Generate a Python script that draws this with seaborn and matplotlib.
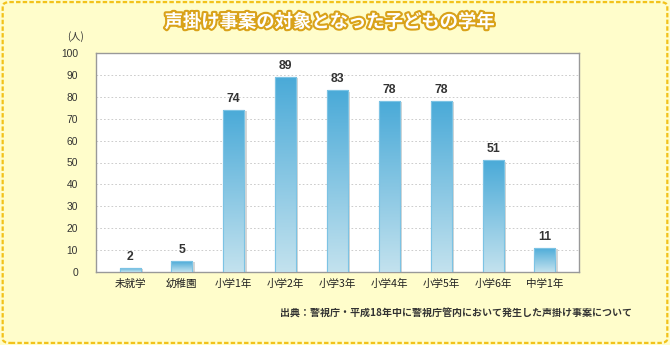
import numpy as np
import pandas as pd
import matplotlib
matplotlib.use("Agg")
import matplotlib.pyplot as plt
import matplotlib.patheffects as pe
from matplotlib.patches import FancyBboxPatch
import seaborn as sns

categories = ["未就学", "幼稚園", "小学1年", "小学2年", "小学3年", "小学4年", "小学5年", "小学6年", "中学1年"]
values = [2, 5, 74, 89, 83, 78, 78, 51, 11]
yticks = list(range(0, 101, 10))
title = "声掛け事案の対象となった子どもの学年"
unit_label = "(人)"
source = "出典：警視庁・平成18年中に警視庁管内において発生した声掛け事案について"

sns.set_theme(style="white")
plt.rcParams['font.family'] = ['Noto Sans CJK JP', 'DejaVu Sans']

fig = plt.figure(figsize=(6.7, 3.45), dpi=100)
fig.patch.set_facecolor("#FFFDCB")

# dashed rounded border
border = FancyBboxPatch((0.004, 0.006), 0.992, 0.988, boxstyle="round,pad=0,rounding_size=0.012",
                        transform=fig.transFigure, facecolor="none", edgecolor="#F2C21B",
                        linewidth=1.6, linestyle=(0, (2, 1)))
fig.patches.append(border)

ax = fig.add_axes([96/670, 1-272/345, (579-96)/670, (272-53)/345])
ax.set_facecolor("white")

df = pd.DataFrame({"cat": categories, "val": values})
sns.barplot(data=df, x="cat", y="val", ax=ax, width=0.405, color="#4AAAD8",
            edgecolor="#80C6E6", linewidth=0.8, zorder=3)

ax.set_ylim(0, 100)
ax.set_xlim(-0.656, len(categories) - 1 + 0.656)
ax.set_yticks(yticks)
ax.set_yticklabels([str(t) for t in yticks], fontsize=7.4, color="#333333", family=['Liberation Sans', 'DejaVu Sans'])
ax.tick_params(axis='y', length=0, pad=13)
ax.tick_params(axis='x', length=0, pad=5, labelsize=7.6, labelcolor="#222222")
ax.set_xlabel("")
ax.set_ylabel("")
for t in yticks[1:-1]:
    ax.axhline(t, color="#C4C4C4", linestyle=(0, (2, 2.5)), linewidth=0.6, zorder=1)
for s in ax.spines.values():
    s.set_color("#999999")
    s.set_linewidth(1.0)

# gradient fill + shadow
grad = np.linspace(0, 1, 256).reshape(-1, 1)
cmap = matplotlib.colors.LinearSegmentedColormap.from_list("g", ["#C3E2EE", "#4AAAD8"])
for p, v in zip(ax.patches, values):
    x0, w = p.get_x(), p.get_width()
    h = p.get_height()
    shadow = matplotlib.patches.Rectangle((x0 + 0.045, 0), w, h - 0.6, facecolor="#CCCCCC",
                                          edgecolor="none", zorder=2, alpha=0.8)
    ax.add_patch(shadow)
    im = ax.imshow(grad, extent=[x0, x0 + w, 0, h], origin="lower", aspect="auto",
                   cmap=cmap, zorder=3.5)
    im.set_clip_path(p)
    edge = matplotlib.patches.Rectangle((x0, 0), w, h, facecolor="none",
                                        edgecolor="#7CC3E4", linewidth=0.8, zorder=3.6)
    ax.add_patch(edge)
    ax.text(x0 + w / 2, h + 2.2, str(v), ha="center", va="bottom", fontsize=8.8,
            fontweight="bold", color="#333333", family=['Liberation Sans', 'DejaVu Sans'])

ax.set_xlim(-0.656, len(categories) - 1 + 0.656)
ax.set_ylim(0, 100)

fig.text(330/670, 1-22/345, title, ha="center", va="center", fontsize=13.2, fontweight="bold",
         color="white", path_effects=[pe.withStroke(linewidth=3, foreground="#D9A21A")])
fig.text(76/670, 1-37/345, unit_label, ha="center", va="center", fontsize=7.2, color="#333333")
fig.text(632/670, 1-314/345, source, ha="right", va="center", fontsize=7.2, fontweight="bold",
         color="#333333")

fig.savefig("out.png", dpi=100, facecolor=fig.get_facecolor())
